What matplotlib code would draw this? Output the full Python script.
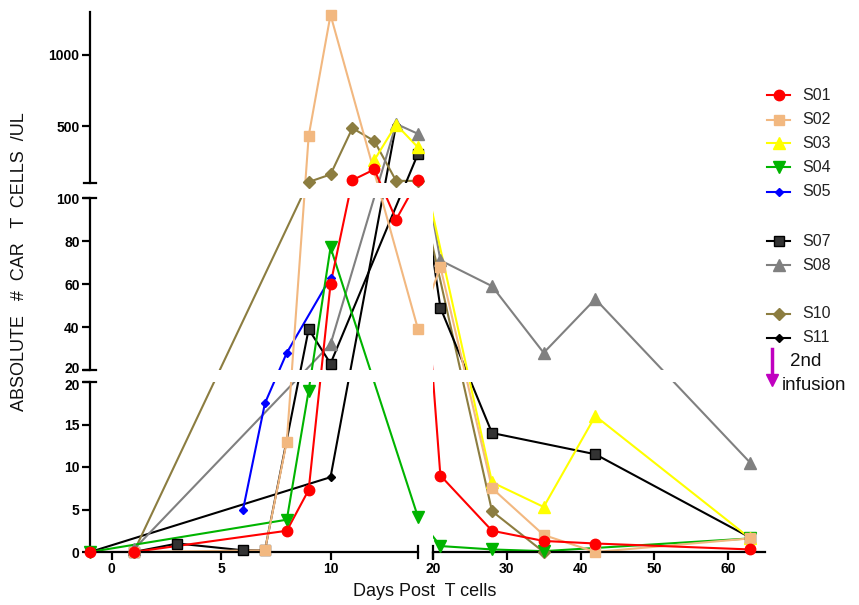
import numpy as np
import matplotlib
matplotlib.use("Agg")
import matplotlib.pyplot as plt
from matplotlib.lines import Line2D
from matplotlib.transforms import ScaledTranslation

plt.rcParams['font.family'] = ['Liberation Sans', 'DejaVu Sans']

# ---- data (day, absolute CAR T cells / uL) ----
s01_days = [-1, 1, 8, 9, 10, 11, 12, 13, 14, 21, 28, 35, 42, 63]
s01_vals = [0, 0, 2.5, 7.3, 60, 120, 195, 90, 120, 9, 2.5, 1.3, 1.0, 0.3]

s02_days = [1, 7, 8, 9, 10, 14, 21, 28, 35, 42, 63]
s02_vals = [0, 0.2, 13, 430, 1280, 39, 68, 7.5, 2.0, 0, 1.6]

s03_days = [12, 13, 14, 28, 35, 42, 63]
s03_vals = [260, 510, 350, 8.2, 5.3, 16, 1.6]

s04_days = [-1, 8, 9, 10, 14, 21, 28, 35, 63]
s04_vals = [0, 3.8, 19, 77, 4.1, 0.7, 0.3, 0.1, 1.6]

s05_days = [6, 7, 8, 10]
s05_vals = [5.0, 17.5, 28, 63]

s07_days = [1, 3, 6, 7, 9, 10, 14, 21, 28, 42, 63]
s07_vals = [0, 1.0, 0.2, 0.2, 39, 23, 305, 49, 14, 11.5, 1.7]

s08_days = [1, 10, 13, 14, 21, 28, 35, 42, 63]
s08_vals = [0.3, 32, 515, 445, 71, 59, 28, 53, 10.5]

s10_days = [1, 9, 10, 11, 12, 13, 14, 28, 35]
s10_vals = [0, 107, 160, 485, 395, 115, 115, 4.8, 0]

s11_days = [-1, 10, 13]
s11_vals = [0, 8.8, 510]

x_ticks = [0, 5, 10, 20, 30, 40, 50, 60]
y_tick_labels = ['0', '5', '10', '15', '20', '20', '40', '60', '80', '100', '500', '1000']

# ---- broken axes: piecewise linear scales ----
EPS = 1e-6
XD = [-1, 14, 20, 65]
XU = [0, 328, 343, 675]
YD = [0, 20, 20 + EPS, 100, 100 + EPS, 1300]
YU = [0, 170, 182, 354, 369, 540]


def x_fwd(v):
    return np.interp(v, XD, XU)


def x_inv(u):
    return np.interp(u, XU, XD)


def y_fwd(v):
    return np.interp(v, YD, YU)


def y_inv(u):
    return np.interp(u, YU, YD)


fig = plt.figure(figsize=(8.59, 6.05), dpi=100)
ax = fig.add_axes([90 / 859, 53 / 605, 675 / 859, 540 / 605])
ax.set_xscale('function', functions=(x_fwd, x_inv))
ax.set_yscale('function', functions=(y_fwd, y_inv))

series = [
    ('S01', s01_days, s01_vals, '#FF0000', 'o', 7.5, '#FF0000', '#FF0000'),
    ('S02', s02_days, s02_vals, '#F2B880', 's', 7, '#F2B880', '#F2B880'),
    ('S03', s03_days, s03_vals, '#FFFF00', '^', 8, '#FFFF00', '#FFFF00'),
    ('S04', s04_days, s04_vals, '#00B400', 'v', 8, '#00B400', '#00B400'),
    ('S05', s05_days, s05_vals, '#0000FF', 'D', 4.5, '#0000FF', '#0000FF'),
    ('S07', s07_days, s07_vals, '#000000', 's', 7, '#333333', '#000000'),
    ('S08', s08_days, s08_vals, '#808080', '^', 8, '#808080', '#808080'),
    ('S10', s10_days, s10_vals, '#8C7D40', 'D', 6, '#8C7D40', '#8C7D40'),
    ('S11', s11_days, s11_vals, '#000000', 'D', 4, '#000000', '#000000'),
]

# earlier subjects sit on top, so draw in reverse order
for name, d, v, c, m, ms, fc, ec in series[::-1]:
    ax.plot(d, v, color=c, lw=1.5, zorder=2)
for name, d, v, c, m, ms, fc, ec in series[::-1]:
    ax.plot(d, v, ls='none', marker=m, ms=ms, mfc=fc, mec=ec, mew=1,
            zorder=6, clip_on=False)

ax.set_xlim(-1, 65)
ax.set_ylim(0, 1300)

# white gaps hide the lines where the axes are broken
ax.axhspan(20, 20 + EPS, color='white', lw=0, zorder=3)
ax.axhspan(100, 100 + EPS, color='white', lw=0, zorder=3)
ax.axvspan(14, 20, color='white', lw=0, zorder=3)

# axis segments with end caps
for sp in ax.spines.values():
    sp.set_visible(False)
ytr = ax.get_yaxis_transform()
xtr = ax.get_xaxis_transform()
for lo, hi in [(0, 20), (20 + EPS, 100), (100 + EPS, 1300)]:
    ax.plot([0, 0], [lo, hi], color='black', lw=1.6, transform=ytr,
            clip_on=False, zorder=5)
for yc in [20, 20 + EPS, 100, 100 + EPS]:
    ax.plot([-6 / 675, 6 / 675], [yc, yc], color='black', lw=1.6,
            transform=ytr, clip_on=False, zorder=5)
for lo, hi in [(-1, 14), (20, 65)]:
    ax.plot([lo, hi], [0, 0], color='black', lw=1.6, transform=xtr,
            clip_on=False, zorder=5)
for xc in [14, 20]:
    ax.plot([xc, xc], [-6 / 540, 6 / 540], color='black', lw=1.6,
            transform=xtr, clip_on=False, zorder=5)

ax.set_xticks(x_ticks, [str(t) for t in x_ticks])
ax.set_yticks([0, 5, 10, 15, 20, 20 + EPS, 40, 60, 80, 100, 500, 1000],
              y_tick_labels)
ax.minorticks_off()
ax.tick_params(direction='out', length=5.5, width=1.6, labelsize=10,
               pad=2, colors='black')
for lab in ax.get_xticklabels() + ax.get_yticklabels():
    lab.set_fontweight('bold')

# the two "20" labels at the break are pushed slightly apart
ylabs = ax.get_yticklabels()
ylabs[4].set_transform(ylabs[4].get_transform() +
                       ScaledTranslation(0, -1.5 / 72, fig.dpi_scale_trans))
ylabs[5].set_transform(ylabs[5].get_transform() +
                       ScaledTranslation(0, 1.5 / 72, fig.dpi_scale_trans))
ax.patch.set_alpha(0)

fig.text(20 / 859, 1 - 262 / 605, 'ABSOLUTE   #  CAR   T  CELLS  /UL',
         rotation=90, ha='center', va='center', fontsize=13, color='#111111')
fig.text(425 / 859, 1 - 592 / 605, 'Days Post  T cells',
         ha='center', va='center', fontsize=13, color='#111111')

# legend
legend_rows = [95, 120, 143, 167, 192, 241, 265, 314, 338]
for (name, d, v, c, m, ms, fc, ec), yp in zip(series, legend_rows):
    yf = 1 - yp / 605
    fig.add_artist(Line2D([767 / 859, 790 / 859], [yf, yf], color=c, lw=1.5,
                          transform=fig.transFigure))
    fig.add_artist(Line2D([778.5 / 859], [yf], ls='none', marker=m, ms=ms,
                          mfc=fc, mec=ec, transform=fig.transFigure))
    fig.text(802 / 859, yf, name, ha='left', va='center', fontsize=11.5,
             color='#222222')

fig.add_artist(Line2D([772 / 859, 772 / 859], [1 - 349 / 605, 1 - 376 / 605],
                      color='#C000C0', lw=2.5, transform=fig.transFigure))
fig.add_artist(Line2D([772 / 859], [1 - 380 / 605], ls='none', marker='v',
                      ms=9, mfc='#C000C0', mec='#C000C0',
                      transform=fig.transFigure))
fig.text(790 / 859, 1 - 361 / 605, '2nd', ha='left', va='center',
         fontsize=13.5, color='#111111')
fig.text(782 / 859, 1 - 386 / 605, 'infusion', ha='left', va='center',
         fontsize=13.5, color='#111111')

fig.savefig('out.png', dpi=100)
